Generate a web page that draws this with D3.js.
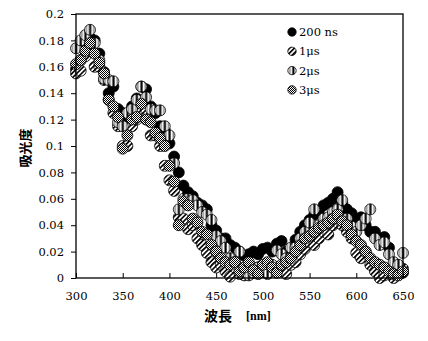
<!DOCTYPE html>
<html><head><meta charset="utf-8">
<script src="https://cdn.jsdelivr.net/npm/d3@7/dist/d3.min.js"></script>
<style>body{margin:0;background:#fff}svg{display:block}</style>
</head><body>
<script>
const wavelengths = d3.range(300, 651, 5);
const seriesNames = ["200 ns", "1μs", "2μs", "3μs"];
const s200ns = [0.158,0.165,0.175,0.182,0.18,0.17,0.156,0.14,0.145,0.128,0.125,0.122,0.13,0.136,0.145,0.143,0.13,0.125,0.115,0.112,0.102,0.092,0.08,0.07,0.065,0.062,0.057,0.055,0.052,0.04,0.036,0.03,0.03,0.025,0.023,0.02,0.017,0.018,0.02,0.018,0.022,0.023,0.02,0.026,0.028,0.02,0.022,0.029,0.035,0.04,0.044,0.048,0.051,0.055,0.057,0.06,0.065,0.057,0.052,0.049,0.042,0.046,0.04,0.035,0.035,0.03,0.031,0.023,0.01,0.003,0.004];
const s1us = [0.155,0.157,0.168,0.175,0.16,0.16,0.15,0.135,0.125,0.115,0.1,0.1,0.115,0.12,0.125,0.128,0.108,0.108,0.1,0.085,0.074,0.066,0.046,0.045,0.037,0.04,0.03,0.025,0.019,0.012,0.008,0.01,0.005,0.001,0.008,0.003,0.002,0.01,0.005,0.008,0.005,0.003,0.007,0.008,0.005,0.003,0.01,0.012,0.018,0.022,0.027,0.025,0.03,0.035,0.033,0.04,0.042,0.04,0.035,0.03,0.019,0.015,0.02,0.01,0.005,0.0,0.002,0.006,0.0,0.003,0.007];
const s2us = [0.174,0.18,0.184,0.188,0.178,0.165,0.151,0.15,0.149,0.118,0.115,0.125,0.128,0.135,0.145,0.137,0.128,0.127,0.127,0.115,0.108,0.087,0.052,0.06,0.06,0.059,0.055,0.05,0.048,0.044,0.032,0.028,0.023,0.015,0.012,0.02,0.005,0.002,0.004,0.008,0.006,0.004,0.01,0.021,0.018,0.015,0.023,0.023,0.03,0.035,0.042,0.052,0.04,0.045,0.046,0.05,0.052,0.059,0.045,0.039,0.035,0.04,0.045,0.052,0.03,0.025,0.027,0.018,0.012,0.01,0.019];
const s3us = [0.162,0.165,0.172,0.178,0.17,0.163,0.155,0.135,0.13,0.122,0.098,0.108,0.12,0.122,0.132,0.12,0.118,0.11,0.106,0.1,0.085,0.073,0.04,0.058,0.055,0.045,0.042,0.035,0.033,0.025,0.02,0.015,0.012,0.01,0.012,0.005,0.008,0.012,0.006,0.003,0.01,0.012,0.008,0.004,0.01,0.012,0.015,0.02,0.025,0.03,0.032,0.035,0.038,0.04,0.042,0.045,0.048,0.043,0.04,0.033,0.028,0.025,0.02,0.015,0.012,0.01,0.008,0.005,0.003,0.002,0.005];
const seriesValues = [s200ns, s1us, s2us, s3us];
const xTicks = [300,350,400,450,500,550,600,650];
const yTicks = [0,0.02,0.04,0.06,0.08,0.1,0.12,0.14,0.16,0.18,0.2];
const xTitle = "波長";
const xUnit = "[nm]";
const yTitle = "吸光度";

const W = 428, H = 341;
const m = {l:76, r:25, t:14, b:63};
const svg = d3.select("body").append("svg").attr("width", W).attr("height", H);
const defs = svg.append("defs");

// patterns
const p1 = defs.append("pattern").attr("id","pat1").attr("patternUnits","userSpaceOnUse")
  .attr("width",3.4).attr("height",3.4).attr("patternTransform","rotate(45)");
p1.append("rect").attr("width",3.4).attr("height",3.4).attr("fill","#fff");
p1.append("rect").attr("width",1.6).attr("height",3.4).attr("fill","#000");
const p2 = defs.append("pattern").attr("id","pat2").attr("patternUnits","objectBoundingBox")
  .attr("width",1).attr("height",1);
p2.append("rect").attr("width",12).attr("height",12).attr("fill","#fff");
p2.append("rect").attr("x",4.5).attr("width",2.2).attr("height",12).attr("fill","#000");
p2.append("rect").attr("x",1.6).attr("width",0.7).attr("height",12).attr("fill","#000");
p2.append("rect").attr("x",8.8).attr("width",0.7).attr("height",12).attr("fill","#000");
const p3 = defs.append("pattern").attr("id","pat3").attr("patternUnits","userSpaceOnUse")
  .attr("width",2).attr("height",2);
p3.append("rect").attr("width",2).attr("height",2).attr("fill","#fff");
p3.append("rect").attr("width",1).attr("height",1).attr("fill","#000");
p3.append("rect").attr("x",1).attr("y",1).attr("width",1).attr("height",1).attr("fill","#000");
const fills = ["#000","url(#pat1)","url(#pat2)","url(#pat3)"];

const x = d3.scaleLinear().domain([300,650]).range([m.l, W-m.r]);
const y = d3.scaleLinear().domain([0,0.2]).range([H-m.b, m.t]);

const serif = "'DejaVu Serif', 'Liberation Serif', serif";

// data
const g = svg.append("g");
seriesValues.forEach((vals, si) => {
  g.append("g").selectAll("circle").data(vals.map((v,i)=>[wavelengths[i], v]))
    .join("circle")
    .attr("cx", d=>x(d[0])).attr("cy", d=>y(d[1])).attr("r", 5.5)
    .attr("fill", fills[si]).attr("stroke","#000").attr("stroke-width",0.8);
});

// frame
svg.append("rect").attr("x", m.l).attr("y", m.t).attr("width", W-m.r-m.l).attr("height", H-m.b-m.t)
  .attr("fill","none").attr("stroke","#000").attr("stroke-width",1.3);

// axes
const xAxis = svg.append("g").attr("transform",`translate(0,${H-m.b})`)
  .call(d3.axisBottom(x).tickValues(xTicks).tickSize(-5).tickPadding(14).tickFormat(d3.format("d")));
const yAxis = svg.append("g").attr("transform",`translate(${m.l},0)`)
  .call(d3.axisLeft(y).tickValues(yTicks).tickSize(5).tickPadding(7).tickFormat(d=>d===0?"0":String(+d.toFixed(2))));
[xAxis,yAxis].forEach(a=>{
  a.select(".domain").remove();
  a.selectAll("line").attr("stroke","#000").attr("stroke-width",1);
  a.selectAll("text").attr("font-family",serif).attr("font-size",11.5).attr("fill","#000");
});

// titles
svg.append("text").attr("x", 204).attr("y", 321).attr("font-family","'Noto Sans CJK JP', sans-serif")
  .attr("font-weight","bold").attr("font-size",14).text(xTitle);
svg.append("text").attr("x", 246).attr("y", 320).attr("font-family","'Liberation Serif', serif")
  .attr("font-weight","bold").attr("font-size",12).text(xUnit);
svg.append("text").attr("transform","translate(30,148) rotate(-90)").attr("text-anchor","middle")
  .attr("font-family","'Noto Sans CJK JP', sans-serif").attr("font-weight","bold").attr("font-size",13).text(yTitle);

// legend
const lg = svg.append("g");
seriesNames.forEach((n,i)=>{
  const yy = 32 + i*19.3;
  lg.append("circle").attr("cx",292).attr("cy",yy).attr("r",4.2).attr("fill",fills[i]).attr("stroke","#000").attr("stroke-width",0.8);
  lg.append("text").attr("x",299).attr("y",yy+4).attr("font-family",serif).attr("font-size",11.5).text(n);
});
</script>
</body></html>
